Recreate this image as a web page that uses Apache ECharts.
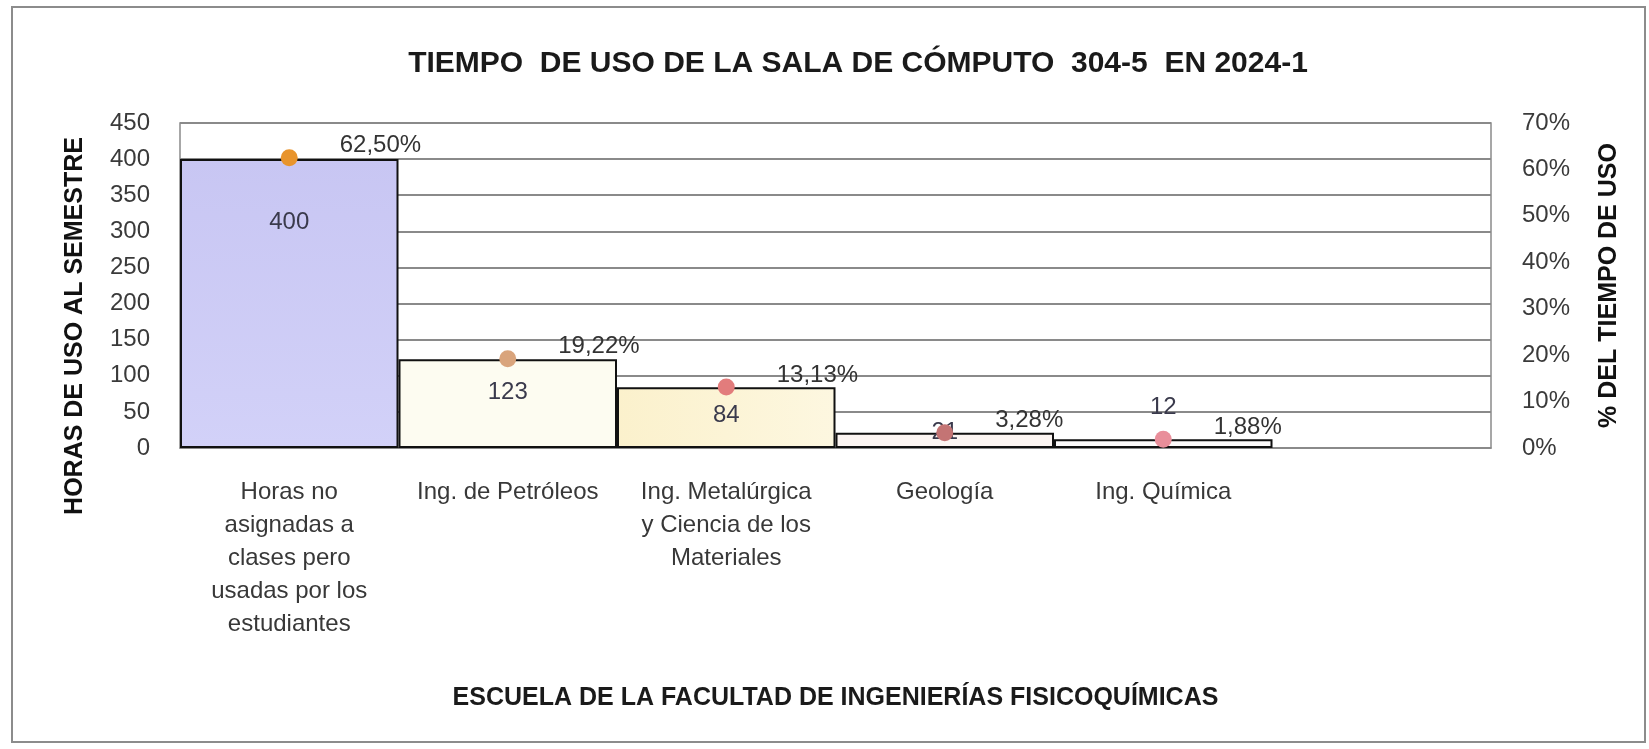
<!DOCTYPE html>
<html>
<head>
<meta charset="utf-8">
<title>Tiempo de uso sala 304-5</title>
<script src="https://cdn.jsdelivr.net/npm/echarts@6/dist/echarts.min.js"></script>
<style>
  html, body { margin: 0; padding: 0; background: #fff; }
  #chart { width: 1649px; height: 749px; }
</style>
</head>
<body>
<div id="chart"></div>
<script>
// datos
const categories = [
  "Horas no\nasignadas a\nclases pero\nusadas por los\nestudiantes",
  "Ing. de Petróleos",
  "Ing. Metalúrgica\ny Ciencia de los\nMateriales",
  "Geología",
  "Ing. Química",
  ""
];
const hours = [400, 123, 84, 21, 12, null];
const usePct = [0.625, 0.1922, 0.1313, 0.0328, 0.0188, null];
const hourTicks = [0, 50, 100, 150, 200, 250, 300, 350, 400, 450];
const pctTicks = [0, 0.1, 0.2, 0.3, 0.4, 0.5, 0.6, 0.7];

const FONT = "'Liberation Sans', sans-serif";

// estilos por barra / marcador
const barColors = [
  {type: 'linear', x: 0, y: 0, x2: 0, y2: 1, colorStops: [{offset: 0, color: '#c8c6f3'}, {offset: 1, color: '#d2d1f8'}]},
  '#fdfcf1',
  {type: 'linear', x: 0, y: 0, x2: 1, y2: 0, colorStops: [{offset: 0, color: '#fbf1cc'}, {offset: 1, color: '#fdf7e0'}]},
  '#fcf5f2',
  '#fdfbfb',
  '#ffffff'
];
const barLabelDy = [79, 49, 44, 16, -16, 0];
const markerColors = ['#e8942c', '#d9a47c', '#e27c7c', '#c47474', '#e98e9a', '#fff'];

const chart = echarts.init(document.getElementById('chart'));

const option = {
  backgroundColor: '#ffffff',
  animation: false,
  title: {
    text: 'TIEMPO  DE USO DE LA SALA DE CÓMPUTO  304-5  EN 2024-1',
    left: 853,
    top: 44,
    textAlign: 'center',
    textStyle: {fontFamily: FONT, fontSize: 30, fontWeight: 'bold', color: '#1a1a1a'}
  },
  grid: {
    left: 180,
    right: 158,
    top: 123,
    bottom: 301,
    show: true,
    borderColor: '#8a8a8a',
    borderWidth: 1.5
  },
  graphic: [
    {
      type: 'rect',
      shape: {x: 12, y: 7, width: 1633, height: 735},
      style: {fill: 'none', stroke: '#8c8c8c', lineWidth: 2}
    },
    {
      type: 'text',
      x: 75,
      y: 326,
      rotation: Math.PI / 2,
      style: {
        text: 'HORAS DE USO AL SEMESTRE',
        fontFamily: FONT, fontSize: 25, fontWeight: 'bold',
        fill: '#111', align: 'center', verticalAlign: 'middle'
      }
    }
  ],
  xAxis: {
    type: 'category',
    data: categories,
    name: 'ESCUELA DE LA FACULTAD DE INGENIERÍAS FISICOQUÍMICAS',
    nameLocation: 'middle',
    nameGap: 238,
    nameTextStyle: {fontFamily: FONT, fontSize: 25, fontWeight: 'bold', color: '#1a1a1a'},
    axisLine: {lineStyle: {color: '#8a8a8a', width: 1.5}},
    axisTick: {show: false},
    axisLabel: {
      interval: 0,
      margin: 28,
      fontFamily: FONT,
      fontSize: 24,
      lineHeight: 33,
      color: '#383838'
    }
  },
  yAxis: [
    {
      type: 'value',
      min: hourTicks[0],
      max: hourTicks[hourTicks.length - 1],
      interval: hourTicks[1] - hourTicks[0],
      axisLine: {show: false},
      axisTick: {show: false},
      axisLabel: {margin: 30, fontFamily: FONT, fontSize: 24, color: '#3a3a3a'},
      splitLine: {lineStyle: {color: '#8a8a8a', width: 2}}
    },
    {
      type: 'value',
      min: pctTicks[0],
      max: pctTicks[pctTicks.length - 1],
      interval: 0.1,
      position: 'right',
      name: '% DEL TIEMPO DE USO',
      nameLocation: 'middle',
      nameGap: 106,
      nameRotate: 90,
      nameTextStyle: {fontFamily: FONT, fontSize: 25, fontWeight: 'bold', color: '#111'},
      axisLine: {show: false},
      axisTick: {show: false},
      splitLine: {show: false},
      axisLabel: {
        margin: 31,
        fontFamily: FONT,
        fontSize: 24,
        color: '#3a3a3a',
        formatter: v => Math.round(v * 100) + '%'
      }
    }
  ],
  series: [
    {
      name: 'Horas',
      type: 'bar',
      barCategoryGap: '0%',
      data: hours.map((v, i) => ({
        value: v,
        itemStyle: {color: barColors[i]},
        label: {offset: [0, barLabelDy[i]]}
      })),
      itemStyle: {borderColor: '#111', borderWidth: 2},
      label: {
        show: true,
        position: 'top',
        distance: 4,
        fontFamily: FONT,
        fontSize: 24,
        color: '#3a3a4c'
      },
      z: 2
    },
    {
      name: '% del tiempo',
      type: 'line',
      yAxisIndex: 1,
      data: usePct.map((v, i) => ({value: v, itemStyle: {color: markerColors[i]}})),
      symbol: 'circle',
      symbolSize: 17,
      lineStyle: {width: 0, opacity: 0},
      label: {
        show: true,
        position: 'right',
        distance: 42,
        offset: [0, -12],
        fontFamily: FONT,
        fontSize: 24,
        color: '#333',
        formatter: p => (p.value * 100).toFixed(2).replace('.', ',') + '%'
      },
      z: 3
    }
  ]
};

chart.setOption(option);
</script>
</body>
</html>
